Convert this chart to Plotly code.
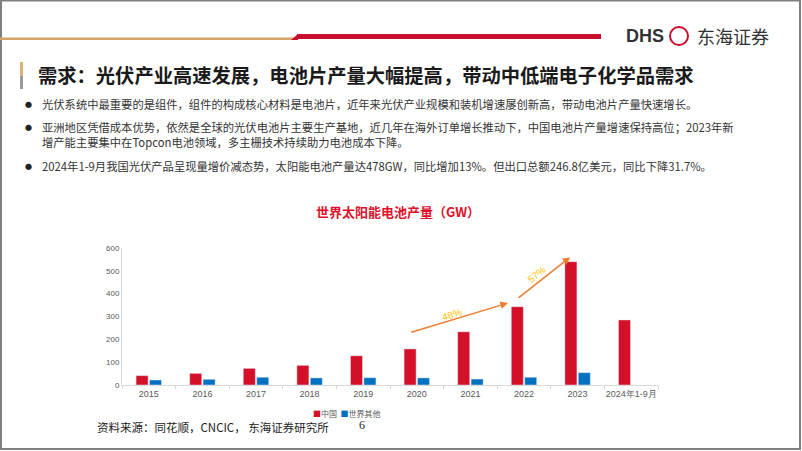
import plotly.graph_objects as go

# ---- data ----
years = ["2015", "2016", "2017", "2018", "2019", "2020", "2021", "2022", "2023", "2024年1-9月"]
china = [41, 51, 73, 86, 128, 158, 233, 343, 540, 285]
others = [22, 25, 34, 31, 32, 31, 26, 34, 54, None]
series_names = ["中国", "世界其他"]
growth_labels = ["48%", "57%"]
y_ticks = [0, 100, 200, 300, 400, 500, 600]

W, H = 802, 451
L, R, T, B = 122, 144, 248, 66
PW, PH = W - L - R, H - T - B


def px(x):
    return (x - L) / PW


def py(y):
    return (H - B - y) / PH


CJK = "Noto Sans CJK SC"
RED = "#D40F28"
BLUE = "#0070C0"
colors = [RED, BLUE]

fig = go.Figure()
fig.add_trace(go.Bar(x=years, y=china, name=series_names[0], marker_color=colors[0]))
fig.add_trace(go.Bar(x=years, y=others, name=series_names[1], marker_color=colors[1]))

ann = []
shapes = []


def rect(x0, y0, x1, y1, color):
    shapes.append(dict(type="rect", xref="paper", yref="paper", x0=px(x0), x1=px(x1), y0=py(y1), y1=py(y0),
                       fillcolor=color, line=dict(width=0), layer="above"))


# page frame
shapes.append(dict(type="rect", xref="paper", yref="paper", x0=px(1), x1=px(800), y0=py(449), y1=py(0.5),
                   line=dict(color="#7f7f7f", width=2), layer="above"))
# top lines
rect(0, 37.5, 296, 40, "#D2A467")
rect(297, 34, 601, 39, "#C8102E")
shapes.append(dict(type="path", xref="paper", yref="paper",
                   path=f"M {px(291)} {py(40)} L {px(298)} {py(34)} L {px(298)} {py(40)} Z",
                   fillcolor="#C8102E", line=dict(width=0), layer="above"))
# title accent bar
rect(20, 62, 23, 76, "#D9B37A")
rect(20, 76, 23, 89, "#9a9a9a")
# logo swirl
shapes.append(dict(type="circle", xref="paper", yref="paper", x0=px(670), x1=px(688), y0=py(45), y1=py(27),
                   line=dict(color="#C8102E", width=2)))

# logo text
ann.append(dict(text="<b>DHS</b>", x=px(624), y=py(36), xref="paper", yref="paper", xanchor="left", yanchor="middle",
                showarrow=False, font=dict(family="Liberation Sans, Arial", size=18, color="#333333")))
ann.append(dict(text="东海证券", x=px(695), y=py(36), xref="paper", yref="paper", xanchor="left", yanchor="middle",
                showarrow=False, font=dict(family=CJK, size=18, color="#333333")))

# headline
ann.append(dict(text="<b>需求：光伏产业高速发展，电池片产量大幅提高，带动中低端电子化学品需求</b>", x=px(36), y=py(75),
                xref="paper", yref="paper", xanchor="left", yanchor="middle", showarrow=False,
                font=dict(family=CJK, size=19.3, color="#1a1a1a")))

# bullets
bullets = [
    (104, "光伏系统中最重要的是组件，组件的构成核心材料是电池片，近年来光伏产业规模和装机增速屡创新高，带动电池片产量快速增长。", True),
    (127, "亚洲地区凭借成本优势，依然是全球的光伏电池片主要生产基地，近几年在海外订单增长推动下，中国电池片产量增速保持高位；2023年新", True),
    (142, "增产能主要集中在Topcon电池领域，多主栅技术持续助力电池成本下降。", False),
    (166, "2024年1-9月我国光伏产品呈现量增价减态势，太阳能电池产量达478GW，同比增加13%。但出口总额246.8亿美元，同比下降31.7%。", True),
]
for yy, txt, dot in bullets:
    ann.append(dict(text=txt, x=px(40), y=py(yy), xref="paper", yref="paper", xanchor="left", yanchor="middle",
                    showarrow=False, font=dict(family=CJK, size=11.3, color="#333333")))
    if dot:
        ann.append(dict(text="●", x=px(28), y=py(yy), xref="paper", yref="paper", xanchor="center", yanchor="middle",
                        showarrow=False, font=dict(family=CJK, size=7, color="#222222")))

# chart title
ann.append(dict(text="<b>世界太阳能电池产量（GW）</b>", x=px(398), y=py(211), xref="paper", yref="paper",
                xanchor="center", yanchor="middle", showarrow=False,
                font=dict(family=CJK, size=13, color="#E0102B")))

# growth arrows
ann.append(dict(x=6.70, y=359, ax=4.87, ay=229, xref="x", yref="y", axref="x", ayref="y", text="",
                showarrow=True, arrowhead=2, arrowsize=1, arrowwidth=1.5, arrowcolor="#ED7D31"))
ann.append(dict(x=7.86, y=560, ax=6.87, ay=376, xref="x", yref="y", axref="x", ayref="y", text="",
                showarrow=True, arrowhead=2, arrowsize=1, arrowwidth=1.5, arrowcolor="#ED7D31"))
ann.append(dict(x=5.66, y=307, xref="x", yref="y", text=growth_labels[0], showarrow=False, textangle=-17,
                font=dict(family="Liberation Sans, Arial", size=10, color="#FFC000")))
ann.append(dict(x=7.24, y=482, xref="x", yref="y", text=growth_labels[1], showarrow=False, textangle=-40,
                font=dict(family="Liberation Sans, Arial", size=10, color="#FFC000")))

# compact legend
legend_text = "  ".join(f"<span style='color:{c}'>■</span>{n}" for c, n in zip(colors, series_names))
ann.append(dict(text=legend_text, x=px(347), y=py(413), xref="paper", yref="paper", xanchor="center",
                yanchor="middle", showarrow=False, font=dict(family=CJK, size=8, color="#595959")))

# footer
ann.append(dict(text="资料来源：同花顺，CNCIC， 东海证券研究所", x=px(95), y=py(427), xref="paper", yref="paper",
                xanchor="left", yanchor="middle", showarrow=False, font=dict(family=CJK, size=11.5, color="#222222")))
ann.append(dict(text="6", x=px(362), y=py(425), xref="paper", yref="paper", xanchor="center", yanchor="middle",
                showarrow=False, font=dict(family="Liberation Serif", size=12, color="#222222")))

fig.update_layout(
    width=W, height=H, autosize=False,
    margin=dict(l=L, r=R, t=T, b=B, pad=0),
    paper_bgcolor="white", plot_bgcolor="white",
    barmode="group", bargap=0.5, bargroupgap=0.1,
    font=dict(family=CJK, color="#595959"),
    showlegend=False,
    xaxis=dict(type="category", showline=True, linecolor="#D9D9D9", linewidth=1, ticks="outside",
               tickson="boundaries", ticklen=3, tickcolor="#D9D9D9", showgrid=False, tickangle=0,
               tickfont=dict(family="Liberation Sans, Arial", size=9, color="#595959")),
    yaxis=dict(range=[0, 600], tickvals=y_ticks, showline=True, linecolor="#D9D9D9", linewidth=1,
               showgrid=False, zeroline=False, ticks="",
               tickfont=dict(family="Liberation Sans, Arial", size=8, color="#595959")),
    annotations=ann, shapes=shapes,
)

fig.write_html("out.html", config={"displayModeBar": False},
               post_script="document.body.style.margin='0';")
